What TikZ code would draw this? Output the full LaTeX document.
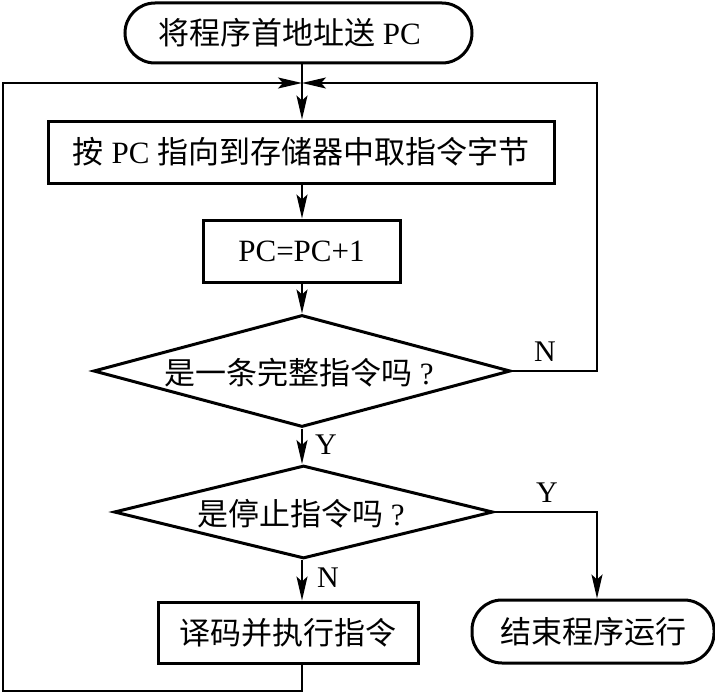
\documentclass[tikz,border=0pt]{standalone}
\usepackage{fontspec}
\setmainfont{Liberation Serif}
\newfontfamily\cjk{Noto Sans CJK SC}
\usetikzlibrary{shapes.geometric,arrows.meta}
\tikzset{
  txt/.style={font=\fontsize{31}{36}\selectfont, inner sep=0pt},
  boxnode/.style={txt, draw, line width=3pt, rectangle},
  termnode/.style={txt, draw, line width=3pt, rectangle, rounded corners=30pt},
  decnode/.style={draw, line width=3pt, diamond, inner sep=0pt},
  conn/.style={line width=1.9pt},
  arr/.style={conn, -{Stealth[length=24pt, width=11pt, inset=5pt]}},
  lab/.style={font=\fontsize{30}{34}\selectfont, inner sep=0pt}
}
\begin{document}
\begin{tikzpicture}[x=1pt, y=-1pt]
\useasboundingbox (0,0) rectangle (715,693);
\node[termnode, minimum width=347pt, minimum height=60pt] (start) at (298.5,33) {{\cjk 将程序首地址送} PC\kern18pt};
\node[boxnode, minimum width=506pt, minimum height=62pt] (b2) at (301,152) {{\cjk 按} PC {\cjk 指向到存储器中取指令字节}};
\node[boxnode, minimum width=197pt, minimum height=62pt] (b3) at (301.5,251) {PC=PC+1};
\node[decnode, minimum width=417pt, minimum height=112pt] (d1) at (302,371) {};
\node[txt] (t1) at (299,373) {{\cjk 是一条完整指令吗} ?};
\node[decnode, minimum width=379pt, minimum height=93pt] (d2) at (303.5,512) {};
\node[txt] (t2) at (301,514) {{\cjk 是停止指令吗} ?};
\node[boxnode, minimum width=260pt, minimum height=61pt] (b4) at (288,632.5) {{\cjk 译码并执行指令}};
\node[termnode, minimum width=242pt, minimum height=63pt] (endn) at (593,631.5) {{\cjk 结束程序运行}};
\coordinate (J) at (302,83);
\coordinate (RT) at (597,83);
\coordinate (LB) at (3,691);
\node[lab] (n1) at (545,352) {N};
\node[lab] (y1) at (326,445) {Y};
\node[lab] (y2) at (547,493) {Y};
\node[lab] (n2) at (328,578) {N};
% main flow
\draw[arr] (start.south -| J) -- (b2.north -| J);
\draw[arr] (b2.south -| J) -- (b3.north -| J);
\draw[arr] (b3.south -| J) -- (d1.north);
\draw[arr] (d1.south) -- (d2.north -| d1.south);
\draw[arr] (d2.south -| J) -- (b4.north -| J);
% loops
\draw[arr] (d1.east) -| (RT) -- (J);
\draw[arr] (b4.south -| J) |- (LB) |- (J);
\draw[arr] (d2.east) -| (endn.north -| RT);
\end{tikzpicture}
\end{document}
